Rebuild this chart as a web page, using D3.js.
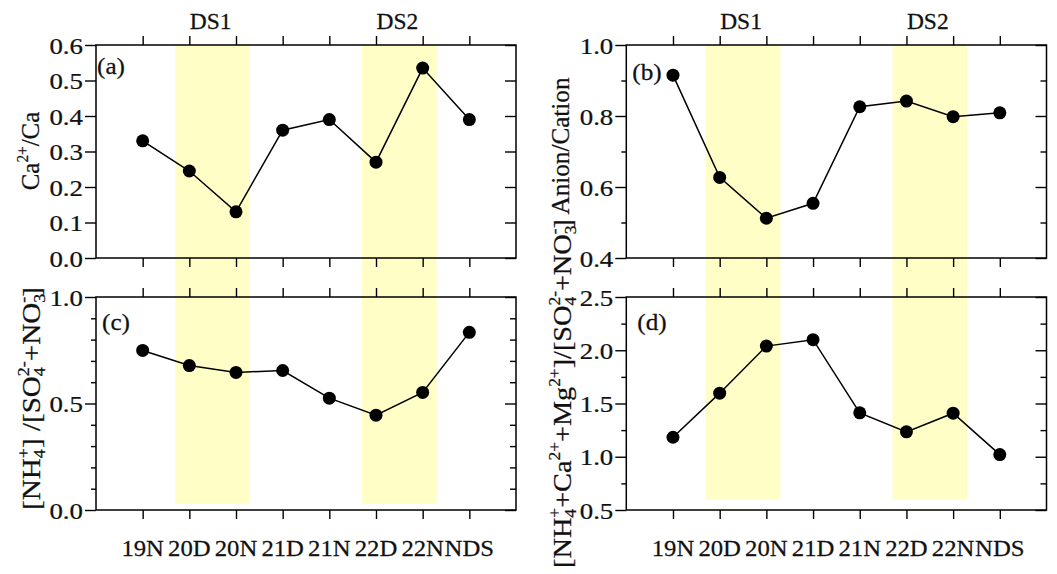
<!DOCTYPE html>
<html><head><meta charset="utf-8">
<script src="https://cdn.jsdelivr.net/npm/d3@7"></script>
<style>
body{margin:0;background:#fff}
text{font-family:"Liberation Serif","Times New Roman",serif;fill:#111;stroke:#111;stroke-width:0.25px}
</style>
</head><body>
<svg id="chart" width="1057" height="574"></svg>
<script>
// ---- data ----
const categories = ["19N","20D","20N","21D","21N","22D","22N","NDS"];
const caRatio      = [0.33, 0.245, 0.13, 0.36, 0.39, 0.27, 0.535, 0.39];
const anionCation  = [0.915, 0.627, 0.512, 0.554, 0.826, 0.842, 0.798, 0.809];
const nh4Ratio     = [0.749, 0.678, 0.646, 0.655, 0.525, 0.445, 0.552, 0.834];
const cationRatio  = [1.183, 1.597, 2.039, 2.099, 1.412, 1.234, 1.409, 1.02];
const dsLabels = ["DS1", "DS2"];
const dsStart  = ["20D", "22D"];
const dsEnd    = ["20N", "22N"];
const majorA = [0,0.1,0.2,0.3,0.4,0.5,0.6], minorA = [];
const majorB = [0.4,0.6,0.8,1.0], minorB = [0.5,0.7,0.9];
const majorC = [0,0.5,1.0], minorC = [0.1,0.2,0.3,0.4,0.6,0.7,0.8,0.9];
const majorD = [0.5,1.0,1.5,2.0,2.5], minorD = [0.75,1.25,1.75,2.25];
const panelLetters = ["(a)","(b)","(c)","(d)"];

const svg = d3.select("#chart");

const cols = [{x0:96, x1:516}, {x0:626.3, x1:1046.5}];
const rows = [{y0:45, y1:258}, {y0:297, y1:510}];

const panels = [
  {col:0,row:0,values:caRatio,domain:[0,0.6],major:majorA,minor:minorA,letter:panelLetters[0],lx:1,ly:29,
   title:{x:39,cy:151,len:79,parts:[["Ca","n"],["2+","sup"],["/Ca","n"]]}},
  {col:1,row:0,values:anionCation,domain:[0.4,1.0],major:majorB,minor:minorB,letter:panelLetters[1],lx:6,ly:35,
   title:{x:569,cy:146,len:137,parts:[["Anion/Cation","n"]]}},
  {col:0,row:1,values:nh4Ratio,domain:[0,1.0],major:majorC,minor:minorC,letter:panelLetters[2],lx:6,ly:33,shadeBottom:0.03,
   title:{x:40,cy:398.5,len:223,parts:[["[NH","n"],["4","sub"],["+","stack"],["] /[SO","n"],["4","sub"],["2-","stack"],["+NO","n"],["3","sub"],["-","stack"],["]","n"]]}},
  {col:1,row:1,values:cationRatio,domain:[0.5,2.5],major:majorD,minor:minorD,letter:panelLetters[3],lx:11,ly:33,shadeBottom:0.6,
   title:{x:571,cy:393.5,len:349,parts:[["[NH","n"],["4","sub"],["+","stack"],["+Ca","n"],["2+","sup"],["+Mg","n"],["2+","sup"],["]/[SO","n"],["4","sub"],["2-","stack"],["+NO","n"],["3","sub"],["-","stack"],["]","n"]]}}
];

panels.forEach(p => {
  const c = cols[p.col], r = rows[p.row];
  p.x = d3.scalePoint().domain(categories).range([c.x0, c.x1]).padding(1);
  p.y = d3.scaleLinear().domain(p.domain).range([r.y1, r.y0]);
  p.box = {x0:c.x0, x1:c.x1, y0:r.y0, y1:r.y1};
});

// ---- shading bands (span both panels of a column) ----
const shadeLayer = svg.append("g");
[0,1].forEach(ci => {
  const top = panels.find(p => p.col===ci && p.row===0);
  const bot = panels.find(p => p.col===ci && p.row===1);
  const step = top.x.step();
  dsLabels.forEach((lab, i) => {
    const xa = top.x(dsStart[i]) - 0.3*step, xb = top.x(dsEnd[i]) + 0.3*step;
    shadeLayer.append("rect")
      .attr("x", xa).attr("width", xb - xa)
      .attr("y", top.box.y0).attr("height", bot.y(bot.shadeBottom) - top.box.y0)
      .attr("fill", "#fefec6");
    svg.append("text").attr("x", 0).attr("y", 0)
      .attr("transform", `translate(${(xa+xb)/2 - 2},29) scale(1.02,1)`)
      .attr("text-anchor", "middle").attr("font-size", 23).text(lab);
  });
});

function styleAxis(g){
  g.select(".domain").remove();
  g.selectAll("line").attr("stroke","#000").attr("stroke-width",1.4);
}

panels.forEach(p => {
  const g = svg.append("g");
  const b = p.box;
  // ticks
  g.append("g").attr("transform",`translate(0,${b.y0})`)
    .call(d3.axisTop(p.x).tickSize(9).tickSizeOuter(0).tickFormat("")).call(styleAxis);
  g.append("g").attr("transform",`translate(0,${b.y1})`)
    .call(d3.axisBottom(p.x).tickSize(9).tickSizeOuter(0).tickFormat("")).call(styleAxis);
  g.append("g").attr("transform",`translate(${b.x0},0)`)
    .call(d3.axisLeft(p.y).tickValues(p.major).tickSize(11).tickSizeOuter(0).tickFormat("")).call(styleAxis);
  if (p.minor.length) g.append("g").attr("transform",`translate(${b.x0},0)`)
    .call(d3.axisLeft(p.y).tickValues(p.minor).tickSize(5).tickSizeOuter(0).tickFormat("")).call(styleAxis);
  g.append("g").attr("transform",`translate(${b.x1},0)`)
    .call(d3.axisRight(p.y).tickValues(p.major).tickSize(-11).tickSizeOuter(0).tickFormat("")).call(styleAxis);
  if (p.minor.length) g.append("g").attr("transform",`translate(${b.x1},0)`)
    .call(d3.axisRight(p.y).tickValues(p.minor).tickSize(-6).tickSizeOuter(0).tickFormat("")).call(styleAxis);
  // frame
  g.append("rect").attr("x",b.x0).attr("y",b.y0).attr("width",b.x1-b.x0).attr("height",b.y1-b.y0)
    .attr("fill","none").attr("stroke","#000").attr("stroke-width",1.5);
  // y tick labels
  const fmt = d3.format(".1f");
  p.major.forEach(v => {
    g.append("text").attr("transform",`translate(${b.x0-13},${p.y(v)}) scale(1.12,1)`)
      .attr("text-anchor","end").attr("dy","0.36em").attr("font-size",24).text(fmt(v));
  });
  // x labels (bottom row)
  if (p.row===1) categories.forEach(cat => {
    g.append("text").attr("transform",`translate(${p.x(cat)},${b.y1+46}) scale(1.03,1)`)
      .attr("text-anchor","middle").attr("font-size",24).text(cat);
  });
  // line + points
  const data = categories.map((c,i)=>({c, v:p.values[i]}));
  g.append("path").datum(data)
    .attr("d", d3.line().x(d=>p.x(d.c)).y(d=>p.y(d.v)))
    .attr("fill","none").attr("stroke","#000").attr("stroke-width",1.5);
  g.selectAll("circle.pt").data(data).enter().append("circle")
    .attr("cx",d=>p.x(d.c)).attr("cy",d=>p.y(d.v)).attr("r",6.5).attr("fill","#000");
  // panel letter
  g.append("text").attr("transform",`translate(${b.x0+p.lx},${b.y0+p.ly}) scale(1.05,1)`)
    .attr("font-size",24).text(p.letter);
  // y title
  const t = p.title;
  const txt = g.append("text").attr("text-anchor","middle").attr("font-size",26);
  let cur = 0, lastSubW = 0;
  t.parts.forEach(([s,k]) => {
    const ts = txt.append("tspan").text(s);
    let target = 0;
    if (k==="n") { ts.attr("font-size",26); target = 0; }
    else if (k==="sup") { ts.attr("font-size",16); target = -11; }
    else if (k==="sub") { ts.attr("font-size",16); target = 5; }
    else if (k==="stack") { ts.attr("font-size",16); target = -11; ts.attr("dx", -lastSubW); }
    ts.attr("dy", target - cur);
    cur = target;
    if (k==="sub") lastSubW = ts.node().getComputedTextLength();
  });
  txt.attr("transform", `translate(${t.x},${t.cy}) rotate(-90)`);
  const w = txt.node().getBBox().width;
  txt.attr("transform", `translate(${t.x},${t.cy}) rotate(-90) scale(${t.len/w},1)`);
});
</script>
</body></html>
